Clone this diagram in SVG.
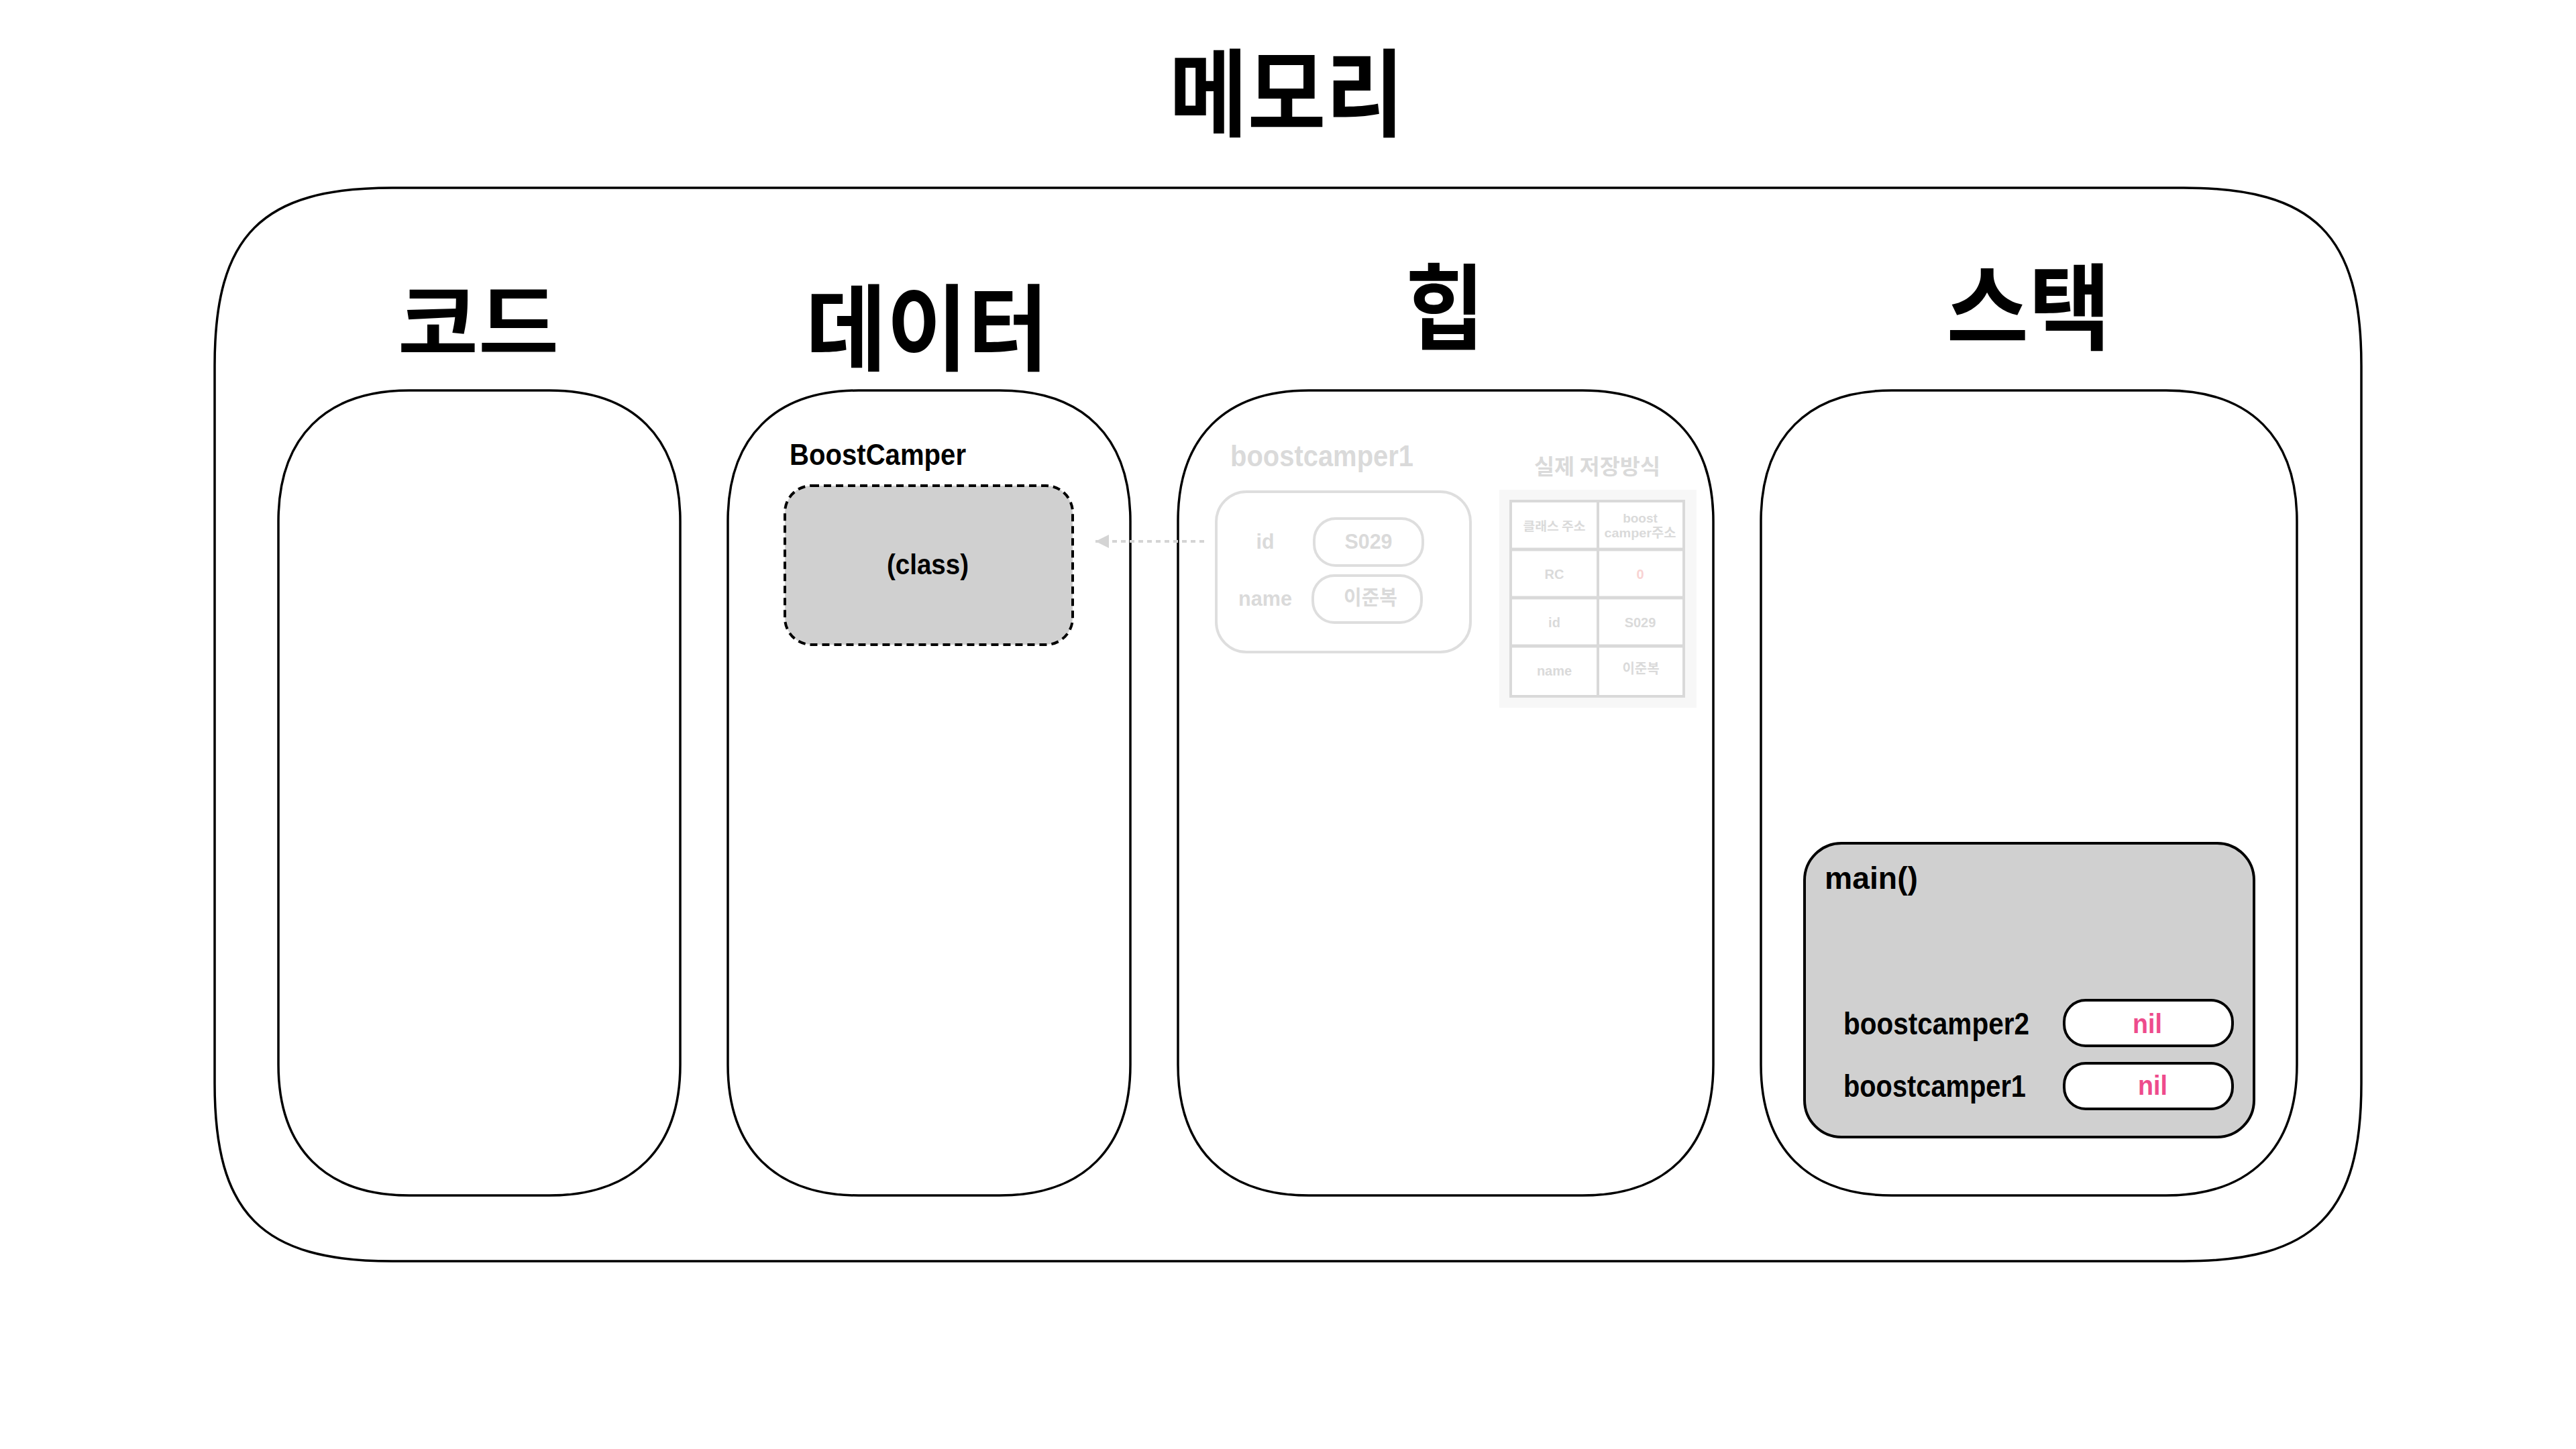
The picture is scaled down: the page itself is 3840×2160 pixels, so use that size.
<svg xmlns="http://www.w3.org/2000/svg" width="3840" height="2160" viewBox="0 0 3840 2160">
<style>
.ko{font-family:"Noto Sans CJK KR","Noto Sans CJK SC",sans-serif;font-weight:700;fill:#000}
.la{font-family:"Liberation Sans",Arial,sans-serif;font-weight:700;fill:#000}
.frame{fill:#fff;stroke:#000;stroke-width:3.5}
.ghost{fill:#dadada}
.ghostbox{fill:#fff;stroke:#dedede;stroke-width:4}
.tbl{fill:#fff;stroke:#d9d9d9;stroke-width:4}
.nil{fill:#ee4b8c}
.pill{fill:#fff;stroke:#000;stroke-width:4}
</style>
<defs>
<marker id="ah" markerUnits="userSpaceOnUse" markerWidth="20" markerHeight="20" refX="20" refY="10" orient="auto">
<path d="M0,0 L20,10 L0,20 Z" fill="#d4d4d4"/>
</marker>
</defs>
<rect width="3840" height="2160" fill="#fff"/>

<g id="title">
<text class="ko" x="1918" y="192" font-size="142" text-anchor="middle" textLength="350" lengthAdjust="spacingAndGlyphs">메모리</text>
</g>

<g id="memory">
<path class="frame" d="M585,280 H3255 C3450,280 3520,350 3520,545 V1615 C3520,1810 3450,1880 3255,1880 H585 C390,1880 320,1810 320,1615 V545 C320,350 390,280 585,280 Z"/>
</g>

<g id="code">
<text class="ko" x="713" y="527" font-size="125" text-anchor="middle" textLength="240" lengthAdjust="spacingAndGlyphs">코드</text>
<path class="frame" d="M610,582 H819 C944,582 1014,652 1014,777 V1587 C1014,1712 944,1782 819,1782 H610 C485,1782 415,1712 415,1587 V777 C415,652 485,582 610,582 Z"/>
</g>

<g id="data">
<text class="ko" x="1382" y="541" font-size="140" text-anchor="middle" textLength="362" lengthAdjust="spacingAndGlyphs">데이터</text>
<path class="frame" d="M1280,582 H1490 C1615,582 1685,652 1685,777 V1587 C1685,1712 1615,1782 1490,1782 H1280 C1155,1782 1085,1712 1085,1587 V777 C1085,652 1155,582 1280,582 Z"/>
</g>

<g id="heap">
<text class="ko" x="2154" y="510" font-size="140" text-anchor="middle" textLength="118" lengthAdjust="spacingAndGlyphs">힙</text>
<path class="frame" d="M1951,582 H2359 C2484,582 2554,652 2554,777 V1587 C2554,1712 2484,1782 2359,1782 H1951 C1826,1782 1756,1712 1756,1587 V777 C1756,652 1826,582 1951,582 Z"/>
</g>

<g id="stack">
<text class="ko" x="3024" y="510" font-size="140" text-anchor="middle" textLength="245" lengthAdjust="spacingAndGlyphs">스택</text>
<path class="frame" d="M2820,582 H3229 C3354,582 3424,652 3424,777 V1587 C3424,1712 3354,1782 3229,1782 H2820 C2695,1782 2625,1712 2625,1587 V777 C2625,652 2695,582 2820,582 Z"/>
</g>

<g id="boostcamper-class">
<text class="la" x="1177" y="693" font-size="44" textLength="263" lengthAdjust="spacingAndGlyphs">BoostCamper</text>
<rect x="1170" y="724" width="429" height="237" rx="40" fill="#d0d0d0" stroke="#000" stroke-width="4" stroke-dasharray="11 7"/>
<text class="la" x="1383" y="856" font-size="42" text-anchor="middle" textLength="122" lengthAdjust="spacingAndGlyphs">(class)</text>
</g>

<g id="heap-boostcamper1">
<text class="la ghost" x="1834" y="695" font-size="44" textLength="273" lengthAdjust="spacingAndGlyphs">boostcamper1</text>
<rect class="ghostbox" x="1813" y="733" width="379" height="239" rx="45"/>
<text class="la ghost" x="1886" y="818" font-size="31" text-anchor="middle" textLength="27" lengthAdjust="spacingAndGlyphs">id</text>
<text class="la ghost" x="1886" y="903" font-size="31" text-anchor="middle" textLength="80" lengthAdjust="spacingAndGlyphs">name</text>
<rect class="ghostbox" x="1959" y="773" width="162" height="70" rx="32"/>
<text class="la ghost" x="2040" y="818" font-size="31" text-anchor="middle" textLength="71" lengthAdjust="spacingAndGlyphs">S029</text>
<rect class="ghostbox" x="1957" y="858" width="162" height="70" rx="32"/>
<text class="ko ghost" x="2043" y="901" font-size="30" text-anchor="middle" textLength="80" lengthAdjust="spacingAndGlyphs">이준복</text>
</g>

<g id="storage-table">
<text class="ko ghost" x="2381" y="707" font-size="32" text-anchor="middle" textLength="188" lengthAdjust="spacingAndGlyphs">실제 저장방식</text>
<rect x="2235" y="730" width="294" height="325" fill="#f7f7f7"/>
<rect class="tbl" x="2252" y="747" width="258" height="291"/>
<line x1="2382" y1="747" x2="2382" y2="1038" stroke="#d9d9d9" stroke-width="4"/>
<line x1="2252" y1="819" x2="2510" y2="819" stroke="#d9d9d9" stroke-width="5"/>
<line x1="2252" y1="891" x2="2510" y2="891" stroke="#d9d9d9" stroke-width="5"/>
<line x1="2252" y1="963" x2="2510" y2="963" stroke="#d9d9d9" stroke-width="5"/>
<text class="ko ghost" x="2317" y="791" font-size="18" text-anchor="middle" textLength="93" lengthAdjust="spacingAndGlyphs">클래스 주소</text>
<text class="la ghost" x="2445" y="779" font-size="19" text-anchor="middle">boost</text>
<text class="ghost" x="2445" y="801" font-size="19" text-anchor="middle" textLength="107" lengthAdjust="spacingAndGlyphs" font-family="Liberation Sans, Noto Sans CJK KR, sans-serif" font-weight="700">camper주소</text>
<text class="la ghost" x="2317" y="863" font-size="20" text-anchor="middle">RC</text>
<text class="la" x="2445" y="863" font-size="20" text-anchor="middle" style="fill:#f8d3d3">0</text>
<text class="la ghost" x="2317" y="935" font-size="20" text-anchor="middle">id</text>
<text class="la ghost" x="2445" y="935" font-size="20" text-anchor="middle">S029</text>
<text class="la ghost" x="2317" y="1007" font-size="20" text-anchor="middle">name</text>
<text class="ko ghost" x="2446" y="1004" font-size="20" text-anchor="middle">이준복</text>
</g>

<g id="main-frame">
<rect x="2690" y="1257" width="670" height="438" rx="55" fill="#d0d0d0" stroke="#000" stroke-width="4"/>
<text class="la" x="2720" y="1325" font-size="46" textLength="139" lengthAdjust="spacingAndGlyphs">main()</text>
<text class="la" x="2748" y="1542" font-size="46" textLength="277" lengthAdjust="spacingAndGlyphs">boostcamper2</text>
<rect class="pill" x="3077" y="1491" width="251" height="68" rx="32"/>
<text class="la nil" x="3201" y="1540" font-size="40" text-anchor="middle" textLength="44" lengthAdjust="spacingAndGlyphs">nil</text>
<text class="la" x="2748" y="1635" font-size="46" textLength="272" lengthAdjust="spacingAndGlyphs">boostcamper1</text>
<rect class="pill" x="3077" y="1585" width="251" height="68" rx="32"/>
<text class="la nil" x="3209" y="1632" font-size="40" text-anchor="middle" textLength="44" lengthAdjust="spacingAndGlyphs">nil</text>
</g>

<g id="connectors">
<line x1="1795" y1="807" x2="1633" y2="807" stroke="#d4d4d4" stroke-width="4" stroke-dasharray="7 6" marker-end="url(#ah)"/>
</g>
</svg>
